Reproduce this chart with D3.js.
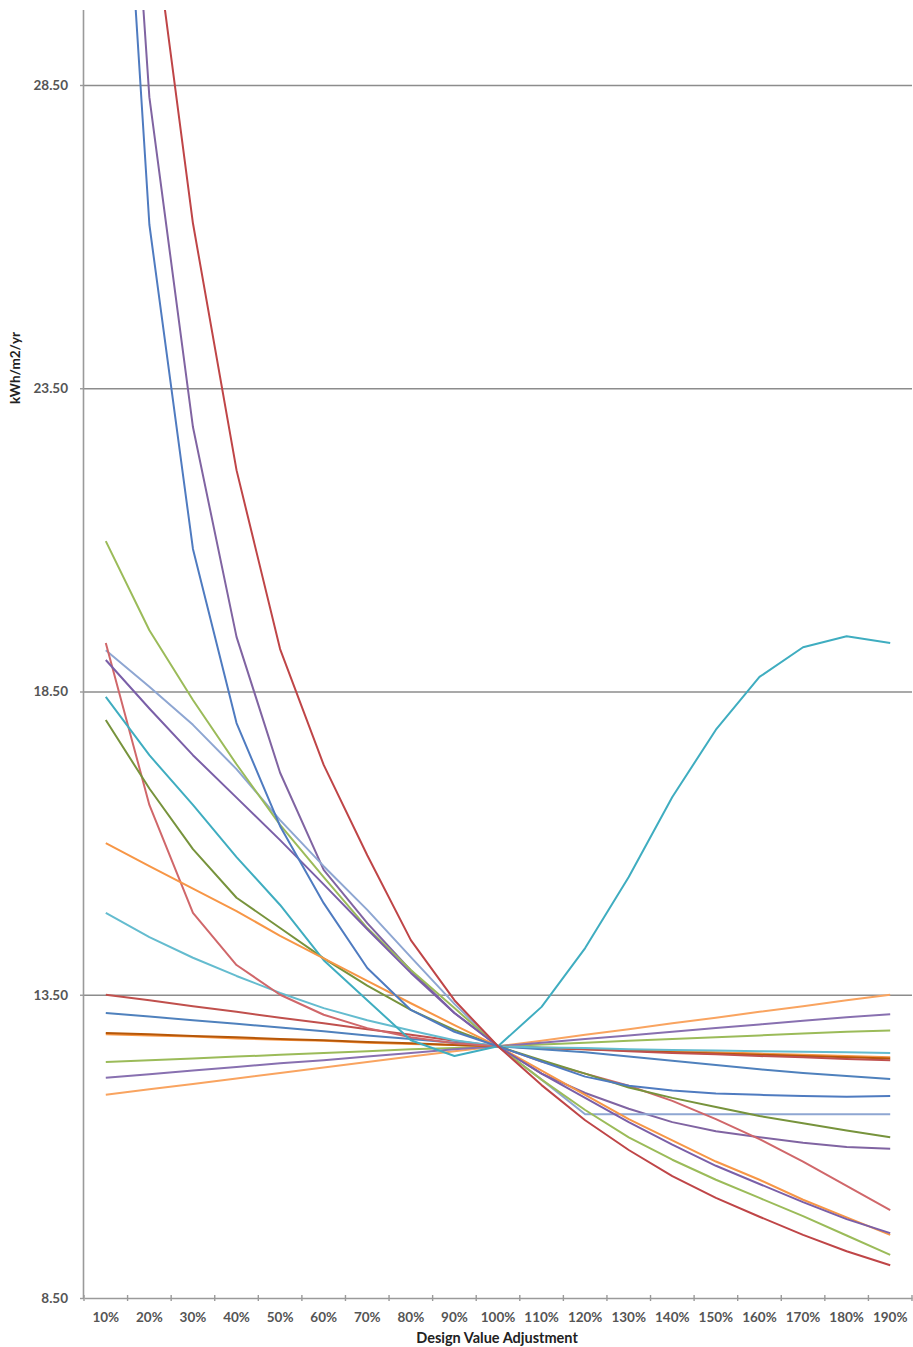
<!DOCTYPE html>
<html>
<head>
<meta charset="utf-8">
<script src="https://cdn.jsdelivr.net/npm/d3@7"></script>
<style>
  html, body { margin: 0; padding: 0; background: #ffffff; }
  svg { display: block; }
  text { font-family: "Lato", "Open Sans", sans-serif; }
</style>
</head>
<body>
<svg id="chart" width="913" height="1347"></svg>
<script>
// ---------------- DATA ----------------
const categories = ["10%","20%","30%","40%","50%","60%","70%","80%","90%","100%",
                    "110%","120%","130%","140%","150%","160%","170%","180%","190%"];
const yTicks = [8.5, 13.5, 18.5, 23.5, 28.5];
const yAxisTitle = "kWh/m2/yr";
const xAxisTitle = "Design Value Adjustment";

const s_purpleSteep= [38.90,28.30,22.86,19.40,17.16,15.56,14.68,13.90,13.20,12.65,12.20,11.88,11.62,11.40,11.25,11.15,11.06,10.99,10.96];
const s_orangeUp   = [11.85,11.94,12.03,12.12,12.21,12.30,12.39,12.48,12.57,12.65,12.74,12.84,12.93,13.03,13.12,13.22,13.31,13.41,13.50];
const s_greenUp    = [12.39,12.42,12.45,12.48,12.51,12.54,12.57,12.60,12.62,12.65,12.68,12.71,12.74,12.77,12.80,12.83,12.86,12.89,12.91];
const s_purpleUp   = [12.13,12.19,12.25,12.31,12.37,12.42,12.48,12.54,12.60,12.65,12.71,12.77,12.83,12.89,12.95,13.01,13.07,13.13,13.18];
const s_orangeFlat = [12.85,12.83,12.81,12.78,12.76,12.74,12.71,12.69,12.67,12.65,12.63,12.61,12.59,12.57,12.55,12.53,12.51,12.49,12.47];
const s_brownFlat  = [12.87,12.85,12.82,12.80,12.77,12.75,12.72,12.70,12.67,12.65,12.62,12.60,12.58,12.55,12.53,12.51,12.49,12.47,12.45];
const s_redFlat    = [13.50,13.41,13.31,13.22,13.12,13.03,12.93,12.84,12.74,12.65,12.62,12.60,12.57,12.54,12.52,12.49,12.47,12.44,12.42];
const s_blueFlat   = [13.20,13.14,13.08,13.02,12.96,12.90,12.83,12.77,12.71,12.65,12.60,12.55,12.48,12.41,12.34,12.27,12.21,12.16,12.11];
const s_teal       = [14.85,14.45,14.11,13.81,13.53,13.28,13.08,12.91,12.75,12.65,12.63,12.62,12.60,12.59,12.58,12.57,12.56,12.55,12.54];
const s_lavender   = [19.18,18.58,17.95,17.22,16.38,15.62,14.90,14.12,13.35,12.65,12.10,11.53,11.53,11.53,11.53,11.53,11.53,11.53,11.53];
const s_pink       = [19.30,16.63,14.85,13.99,13.50,13.17,12.95,12.80,12.70,12.65,12.40,12.20,12.00,11.75,11.45,11.12,10.75,10.35,9.95];
const s_olive      = [18.03,16.90,15.90,15.10,14.60,14.10,13.65,13.25,12.92,12.65,12.42,12.20,11.97,11.80,11.65,11.50,11.38,11.26,11.15];
const s_cyan       = [18.41,17.45,16.63,15.77,14.98,14.07,13.41,12.75,12.49,12.65,13.30,14.27,15.44,16.76,17.87,18.74,19.23,19.41,19.30];
const s_orange     = [16.00,15.62,15.25,14.88,14.47,14.10,13.73,13.36,13.00,12.65,12.25,11.85,11.45,11.10,10.75,10.45,10.12,9.83,9.54];
const s_yellowGreen= [20.98,19.51,18.36,17.30,16.30,15.44,14.60,13.91,13.28,12.65,12.10,11.60,11.15,10.78,10.45,10.15,9.85,9.53,9.21];
const s_purpleMid  = [19.02,18.22,17.45,16.75,16.05,15.32,14.58,13.86,13.20,12.65,12.20,11.80,11.40,11.03,10.68,10.38,10.08,9.80,9.57];
const s_blueSteep  = [37.50,26.20,20.85,17.98,16.28,15.01,13.94,13.25,12.89,12.65,12.40,12.15,12.00,11.92,11.87,11.85,11.83,11.82,11.83];
const s_redSteep   = [45.00,31.70,26.22,22.15,19.20,17.29,15.80,14.40,13.41,12.65,12.01,11.43,10.94,10.51,10.15,9.84,9.54,9.27,9.04];

const seriesValues = [s_purpleSteep, s_orangeUp, s_greenUp, s_purpleUp, s_orangeFlat, s_brownFlat, s_redFlat, s_blueFlat,
                      s_teal, s_lavender, s_pink, s_olive, s_cyan, s_orange, s_yellowGreen, s_purpleMid, s_blueSteep, s_redSteep];
const seriesColors = ["#8064a2","#f9a460","#9bbb59","#8870b0","#f79646","#b65708","#c0504d","#4f81bd",
                      "#64bccf","#8ea6d2","#d0676a","#77933c","#3fadc0","#f79646","#9bbb59","#7a5fa8","#4f7bc0","#bf4547"];

// ---------------- LAYOUT ----------------
const svg = d3.select("#chart");
const pL = 84, pR = 912, pT = 10, pB = 1298;

const x = d3.scaleBand().domain(categories).range([pL, pR]).padding(0);
const y = d3.scaleLinear().domain([8.5, 8.5 + (pB - pT) / 60.65]).range([pB, pT]);
const cx = c => x(c) + x.bandwidth() / 2;

svg.append("defs").append("clipPath").attr("id", "plotclip")
  .append("rect").attr("x", pL).attr("y", pT).attr("width", pR - pL).attr("height", pB - pT);

// gridlines
const grid = svg.append("g").attr("transform", `translate(${pL},0)`)
  .call(d3.axisLeft(y).tickValues(yTicks.slice(1)).tickSize(-(pR - pL)).tickFormat(""));
grid.select(".domain").remove();
grid.selectAll("line").attr("stroke", "#8c8c8c").attr("stroke-width", 1.6);

// lines
const line = d3.line().x((d, i) => cx(categories[i])).y(d => y(d));
const lg = svg.append("g").attr("clip-path", "url(#plotclip)");
seriesValues.forEach((vals, k) => {
  lg.append("path").datum(vals)
    .attr("fill", "none")
    .attr("stroke", seriesColors[k])
    .attr("stroke-width", 2)
    .attr("stroke-linejoin", "round")
    .attr("d", line);
});

// y axis
const ya = svg.append("g").attr("transform", `translate(${pL},0)`)
  .call(d3.axisLeft(y).tickValues(yTicks).tickSize(4).tickPadding(12).tickFormat(d3.format(".2f")));
ya.select(".domain").attr("stroke", "#9a9a9a").attr("stroke-width", 1.6)
  .attr("d", `M-0.5,${pT}V${pB}`);
ya.selectAll(".tick line").attr("stroke", "#9a9a9a").attr("stroke-width", 1.4);
ya.selectAll(".tick text").attr("fill", "#555").style("font-size", "13.5px").style("font-weight", "bold")
  .style("font-family", "Lato, 'Open Sans', sans-serif");

// x axis
const xa = svg.append("g").attr("transform", `translate(0,${pB})`)
  .call(d3.axisBottom(x).tickSize(0).tickPadding(14));
xa.select(".domain").attr("stroke", "#9a9a9a").attr("stroke-width", 1.6);
xa.selectAll(".tick text").attr("fill", "#555").style("font-size", "13.5px").style("font-weight", "bold")
  .style("font-family", "Lato, 'Open Sans', sans-serif");
xa.selectAll(".bt").data(categories.concat([null])).enter().append("line")
  .attr("class", "bt")
  .attr("x1", d => d === null ? pR : x(d)).attr("x2", d => d === null ? pR : x(d))
  .attr("y1", -3).attr("y2", 3)
  .attr("stroke", "#9a9a9a").attr("stroke-width", 1.4);

// titles
svg.append("text").attr("x", 497).attr("y", 1343)
  .attr("text-anchor", "middle").style("font-size", "14.5px").style("font-weight", "bold")
  .attr("fill", "#222").text(xAxisTitle);
svg.append("text").attr("transform", "translate(20,368) rotate(-90)")
  .attr("text-anchor", "middle").style("font-size", "13.5px").style("font-weight", "bold")
  .attr("fill", "#222").text(yAxisTitle);
</script>
</body>
</html>
